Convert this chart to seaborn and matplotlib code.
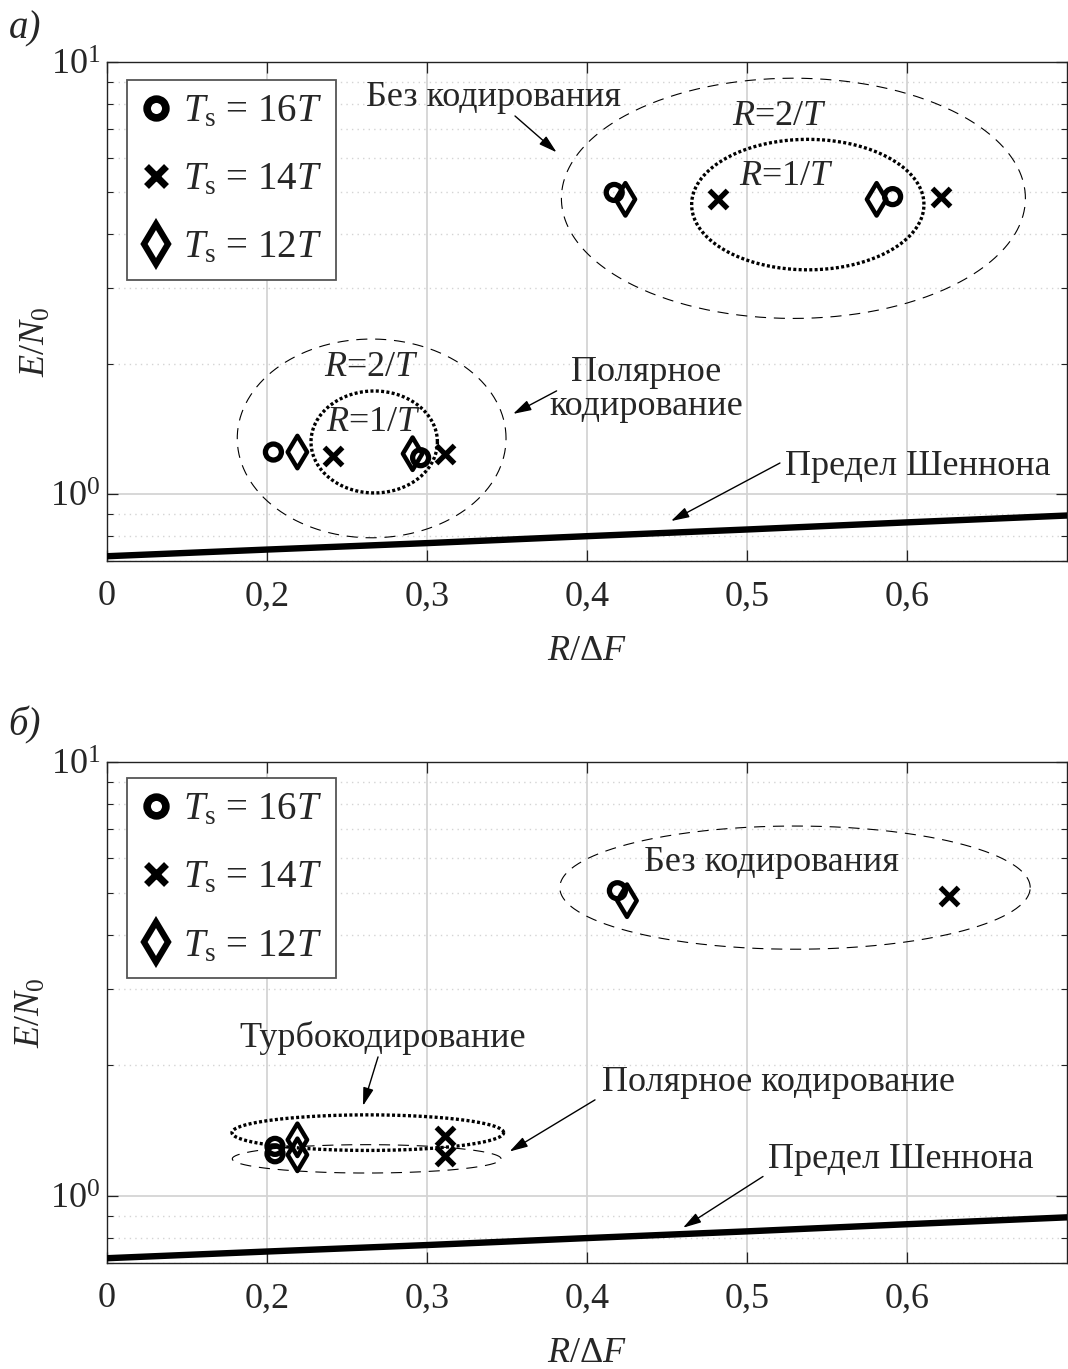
import numpy as np
import matplotlib
matplotlib.use("Agg")
import matplotlib.pyplot as plt
import seaborn as sns
import pandas as pd
from matplotlib.lines import Line2D
from matplotlib.ticker import LogLocator, NullFormatter, FixedLocator, FixedFormatter

# ---------------- data ----------------
shannon_rate = [0.1, 0.2, 0.3, 0.4, 0.5, 0.6, 0.7]
shannon_ebn0 = [0.718, 0.744, 0.770, 0.799, 0.828, 0.860, 0.892]

# panel a
a_ts16_rate = [0.204, 0.296, 0.417, 0.591]
a_ts16_ebn0 = [1.251, 1.214, 4.99, 4.88]
a_ts14_rate = [0.241, 0.311, 0.482, 0.621]
a_ts14_ebn0 = [1.225, 1.238, 4.81, 4.88]
a_ts12_rate = [0.219, 0.291, 0.424, 0.581]
a_ts12_ebn0 = [1.251, 1.240, 4.81, 4.81]

# panel b
b_ts16_rate = [0.205, 0.205, 0.419]
b_ts16_ebn0 = [1.300, 1.250, 5.05]
b_ts14_rate = [0.311, 0.311, 0.626]
b_ts14_ebn0 = [1.370, 1.232, 4.91]
b_ts12_rate = [0.219, 0.219, 0.425]
b_ts12_ebn0 = [1.346, 1.243, 4.79]

x_ticks = [0.1, 0.2, 0.3, 0.4, 0.5, 0.6]
x_tick_labels = ["0", "0,2", "0,3", "0,4", "0,5", "0,6"]
legend_labels = [r"$T_{\mathrm{s}}$ = 16$T$", r"$T_{\mathrm{s}}$ = 14$T$", r"$T_{\mathrm{s}}$ = 12$T$"]

# ---------------- style ----------------
sns.set_style("ticks")
plt.rcParams["font.family"] = ["Liberation Serif", "DejaVu Serif"]
plt.rcParams["mathtext.fontset"] = "custom"
plt.rcParams["mathtext.rm"] = "Liberation Serif"
plt.rcParams["mathtext.it"] = "Liberation Serif:italic"
plt.rcParams["mathtext.bf"] = "Liberation Serif:bold"
plt.rcParams["axes.unicode_minus"] = False

FS = 26
TFS = 26

fig = plt.figure(figsize=(10.68, 13.69), dpi=100)
L, R = 107 / 1068, 1067 / 1068
ax_a = fig.add_axes([L, 1 - 561 / 1369, R - L, (561 - 62) / 1369])
ax_b = fig.add_axes([L, 1 - 1263 / 1369, R - L, (1263 - 762) / 1369])

GRID = "#d4d4d4"


def style_axes(ax, ylab_x, ylab_y):
    ax.set_yscale("log")
    ax.set_xlim(0.1, 0.7)
    ax.set_ylim(0.70, 10)
    ax.xaxis.set_major_locator(FixedLocator(x_ticks))
    ax.xaxis.set_major_formatter(FixedFormatter(x_tick_labels))
    ax.yaxis.set_major_locator(LogLocator(base=10, numticks=10))
    ax.yaxis.set_minor_locator(LogLocator(base=10, subs=np.arange(2, 10), numticks=10))
    ax.yaxis.set_minor_formatter(NullFormatter())
    ax.grid(True, which="major", axis="both", color=GRID, lw=1.3, ls="-", zorder=0)
    ax.grid(True, which="minor", axis="y", color=GRID, lw=1.0, ls=(0, (1, 3)), zorder=0)
    ax.tick_params(axis="both", which="major", direction="in", length=8, width=0.9,
                   top=True, right=True, labelsize=TFS, color="#222222")
    ax.tick_params(axis="x", which="major", pad=14)
    ax.tick_params(axis="y", which="major", pad=5)
    ax.tick_params(axis="y", which="minor", direction="in", length=4, width=0.8,
                   left=True, right=True, color="#222222")
    for s in ax.spines.values():
        s.set_color("#222222")
        s.set_linewidth(1.0)
        s.set_visible(True)
    ax.set_xlabel(r"$R/\Delta F$", fontsize=FS)
    ax.set_ylabel(r"$E/N_0$", fontsize=FS)
    ax.xaxis.set_label_coords(0.5, -0.148)
    ax.yaxis.set_label_coords(ylab_x, ylab_y)


def draw_shannon(ax):
    sns.lineplot(x=shannon_rate, y=shannon_ebn0, ax=ax, color="black", lw=4.6,
                 zorder=3, legend=False)


def draw_points(ax, r16, e16, r14, e14, r12, e12):
    sns.scatterplot(x=r16, y=e16, ax=ax, marker="o", s=11.5 ** 2, facecolor="none",
                    edgecolor="black", linewidths=3.8, zorder=5, legend=False)
    sns.scatterplot(x=r14, y=e14, ax=ax, marker="x", s=13 ** 2, color="black",
                    linewidths=3.8, zorder=5, legend=False)
    sns.scatterplot(x=r12, y=e12, ax=ax, marker="d", s=16.5 ** 2, facecolor="none",
                    edgecolor="black", linewidths=3.2, zorder=5, legend=False)


def ellipse(ax, cx, hw, cly, hh, kind):
    t = np.linspace(0, 2 * np.pi, 400)
    xs = cx + hw * np.cos(t)
    ys = 10 ** (cly + hh * np.sin(t))
    if kind == "dash":
        ax.plot(xs, ys, color="black", lw=0.8, ls=(0, (10, 7)), zorder=4)
    else:
        ax.plot(xs, ys, color="black", lw=2.4, ls=(0, (0.9, 0.7)), zorder=4,
                dash_capstyle="butt")


def arrow(ax, xy_tail, xy_head):
    ax.annotate("", xy=xy_head, xytext=xy_tail,
                arrowprops=dict(arrowstyle="-|>,head_length=1.1,head_width=0.32",
                                color="black", lw=1.0, shrinkA=0, shrinkB=0),
                zorder=6)


def add_legend(ax, top):
    handles = [
        Line2D([], [], ls="", marker="o", mfc="none", mec="black", ms=13.5, mew=5.5),
        Line2D([], [], ls="", marker="x", color="black", ms=14, mew=5.0),
        Line2D([], [], ls="", marker="d", mfc="none", mec="black", ms=20, mew=4.5),
    ]
    leg = ax.legend(handles, legend_labels, loc="upper left", bbox_to_anchor=(0.0208, top),
                    borderaxespad=0, fontsize=28, frameon=True, fancybox=False,
                    edgecolor="#555555", framealpha=1, handlelength=0.8,
                    handletextpad=0.3, labelspacing=0.8, borderpad=0.35)
    leg.get_frame().set_linewidth(1.3)
    leg.set_zorder(10)


# ---------------- panel a ----------------
style_axes(ax_a, -0.056, 0.44)
draw_shannon(ax_a)
ellipse(ax_a, 0.529, 0.145, 0.6845, 0.278, "dash")
ellipse(ax_a, 0.538, 0.0726, 0.670, 0.151, "dot")
ellipse(ax_a, 0.2654, 0.084, 0.1288, 0.230, "dash")
ellipse(ax_a, 0.267, 0.0395, 0.1206, 0.118, "dot")
draw_points(ax_a, a_ts16_rate, a_ts16_ebn0, a_ts14_rate, a_ts14_ebn0, a_ts12_rate, a_ts12_ebn0)

ax_a.text(0.3413, 8.29, "Без кодирования", fontsize=FS, ha="center", va="center")
arrow(ax_a, (0.355, 7.50), (0.381, 6.18))
ax_a.text(0.5206, 7.46, r"$R$=2/$T$", fontsize=FS, ha="center", va="center")
ax_a.text(0.5244, 5.44, r"$R$=1/$T$", fontsize=FS, ha="center", va="center")
ax_a.text(0.265, 1.96, r"$R$=2/$T$", fontsize=FS, ha="center", va="center")
ax_a.text(0.2663, 1.461, r"$R$=1/$T$", fontsize=FS, ha="center", va="center")
ax_a.text(0.4369, 1.743, "Полярное\nкодирование", fontsize=FS, ha="center", va="center",
          linespacing=1.05)
arrow(ax_a, (0.381, 1.733), (0.3538, 1.533))
ax_a.text(0.6069, 1.161, "Предел Шеннона", fontsize=FS, ha="center", va="center")
arrow(ax_a, (0.5206, 1.18), (0.4525, 0.866))
add_legend(ax_a, 0.964)

# ---------------- panel b ----------------
style_axes(ax_b, -0.062, 0.50)
draw_shannon(ax_b)
ellipse(ax_b, 0.530, 0.147, 0.7104, 0.142, "dash")
ellipse(ax_b, 0.263, 0.0849, 0.1456, 0.041, "dot")
ellipse(ax_b, 0.2623, 0.084, 0.0852, 0.0327, "dash")
draw_points(ax_b, b_ts16_rate, b_ts16_ebn0, b_ts14_rate, b_ts14_ebn0, b_ts12_rate, b_ts12_ebn0)

ax_b.text(0.5154, 5.88, "Без кодирования", fontsize=FS, ha="center", va="center")
ax_b.text(0.2722, 2.312, "Турбокодирование", fontsize=FS, ha="center", va="center")
arrow(ax_b, (0.2694, 2.09), (0.260, 1.612))
ax_b.text(0.520, 1.821, "Полярное кодирование", fontsize=FS, ha="center", va="center")
arrow(ax_b, (0.405, 1.664), (0.3516, 1.265))
ax_b.text(0.5963, 1.21, "Предел Шеннона", fontsize=FS, ha="center", va="center")
arrow(ax_b, (0.510, 1.108), (0.460, 0.844))
add_legend(ax_b, 0.968)

fig.text(25 / 1068, 1 - 29 / 1369, "а)", fontsize=FS + 2, style="italic", ha="center", va="center")
fig.text(25 / 1068, 1 - 725 / 1369, "б)", fontsize=FS + 2, style="italic", ha="center", va="center")

fig.savefig("out.png", dpi=100)
